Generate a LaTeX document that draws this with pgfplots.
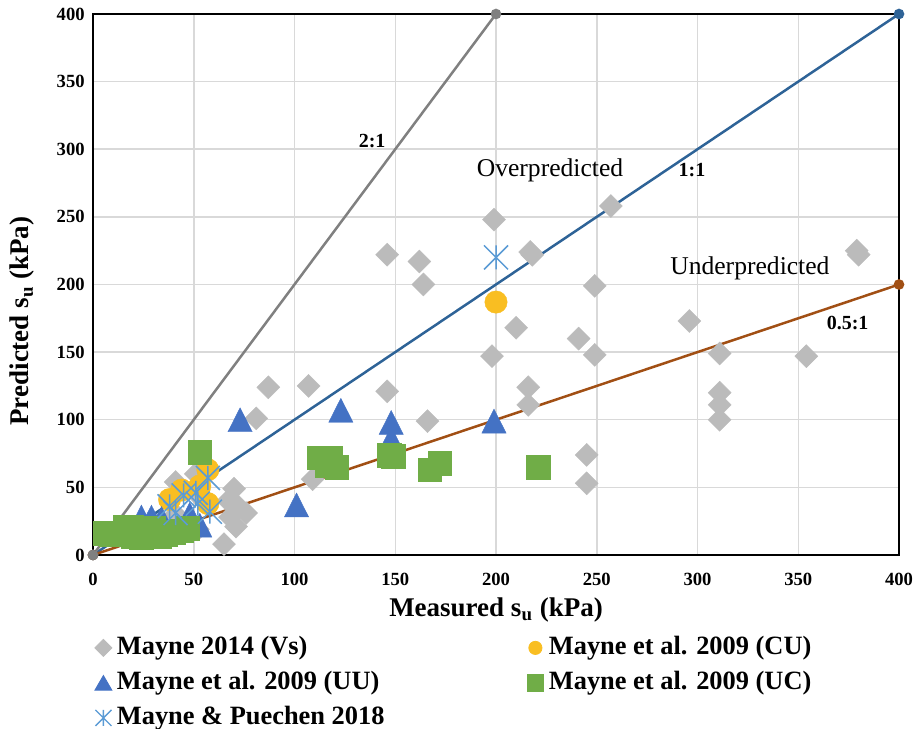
\documentclass[border=0pt]{standalone}
\usepackage{fontspec}
\setmainfont{Liberation Serif}
\usepackage{pgfplots}
\pgfplotsset{compat=1.18}

\definecolor{vsgray}{HTML}{BBBBBB}
\definecolor{cugold}{HTML}{F9BE22}
\definecolor{uublue}{HTML}{4472C4}
\definecolor{ucgreen}{HTML}{70AD47}
\definecolor{mpblue}{HTML}{5B9BD5}
\definecolor{ltwo}{HTML}{808080}
\definecolor{lone}{HTML}{2E6397}
\definecolor{lhalf}{HTML}{A14F14}
\definecolor{gridgray}{HTML}{D9D9D9}

% X with a vertical bar, like the Excel marker
\pgfdeclareplotmark{xast}{%
  \pgfpathmoveto{\pgfqpoint{-\pgfplotmarksize}{-\pgfplotmarksize}}%
  \pgfpathlineto{\pgfqpoint{\pgfplotmarksize}{\pgfplotmarksize}}%
  \pgfpathmoveto{\pgfqpoint{-\pgfplotmarksize}{\pgfplotmarksize}}%
  \pgfpathlineto{\pgfqpoint{\pgfplotmarksize}{-\pgfplotmarksize}}%
  \pgfpathmoveto{\pgfqpoint{0pt}{-\pgfplotmarksize}}%
  \pgfpathlineto{\pgfqpoint{0pt}{\pgfplotmarksize}}%
  \pgfusepathqstroke}

\begin{document}
\begin{tikzpicture}
\begin{axis}[
  scale only axis, width=403pt, height=270.5pt,
  xmin=0, xmax=400, ymin=0, ymax=400,
  xtick={0,50,...,400}, ytick={0,50,...,400},
  grid=major, major grid style={draw=gridgray, line width=0.75pt},
  axis line style={black, line width=1pt},
  major tick length=0pt,
  clip=false,
  tick label style={font=\fontsize{9.3}{11}\selectfont\bfseries},
  /pgf/number format/assume math mode=true,
  xticklabel style={inner sep=0pt, anchor=north, yshift=-9pt},
  yticklabel style={inner sep=0pt, anchor=east, xshift=-4pt},
  label style={font=\fontsize{13.5}{16}\selectfont\bfseries, inner sep=0pt},
  xlabel={Measured s\textsubscript{u} (kPa)},
  ylabel={Predicted s\textsubscript{u} (kPa)},
  xlabel style={at={(0.5,-0.1017)}, anchor=center},
  ylabel style={at={(-0.0880,0.4325)}, anchor=center},
  legend columns=2,
  legend cell align=left,
  legend style={at={(0,0)}, anchor=north west, xshift=0.75pt, yshift=-39.5pt,
    draw=none, fill=none, inner xsep=0pt, inner ysep=0pt,
    font=\fontsize{13.2}{16}\selectfont\bfseries,
    nodes={inner sep=0pt, text height=10pt, text depth=3.5pt},
    row sep=4pt, column sep=0pt},
  legend image code/.code={\path[draw=none, fill=none] (-4.25pt,0pt) -- (4.25pt,0pt);
    \draw[#1] plot coordinates {(0pt,0pt)};},
]

% legend entries (small markers, as in the original)
\addlegendimage{only marks, mark=square*, mark size=3pt, mark options={rotate=45, fill=vsgray, draw=vsgray}}
\addlegendentry{\makebox[207.5pt][l]{\hspace*{2.5pt}Mayne 2014 (Vs)}}
\addlegendimage{only marks, mark=*, mark size=3.3pt, mark options={fill=cugold, draw=cugold}}
\addlegendentry{\hspace*{2.5pt}Mayne et al. 2009 (CU)}
\addlegendimage{only marks, mark=triangle*, mark size=4.9pt, mark options={yshift=-1.2pt, fill=uublue, draw=uublue}}
\addlegendentry{\makebox[207.5pt][l]{\hspace*{2.5pt}Mayne et al. 2009 (UU)}}
\addlegendimage{only marks, mark=square*, mark size=4.1pt, mark options={fill=ucgreen, draw=ucgreen}}
\addlegendentry{\hspace*{2.5pt}Mayne et al. 2009 (UC)}
\addlegendimage{only marks, mark=xast, mark size=4pt, mark options={draw=mpblue, line width=0.7pt}}
\addlegendentry{\makebox[207.5pt][l]{\hspace*{2.5pt}Mayne \& Puechen 2018}}

% reference lines
\addplot[forget plot, lone, line width=1.25pt, mark=*, mark size=2pt] coordinates {(0,0) (400,400)};
\addplot[forget plot, lhalf, line width=1.25pt, mark=*, mark size=2pt] coordinates {(0,0) (400,200)};
\addplot[forget plot, ltwo, line width=1.25pt, mark=*, mark size=2pt] coordinates {(0,0) (200,400)};

% Mayne 2014 (Vs)
\addplot[forget plot, only marks, mark=square*, mark size=4.07pt,
  mark options={rotate=45, fill=vsgray, draw=vsgray, line width=0.2pt}] coordinates {
(199,248) (257,258) (217,224) (218,222) (146,222) (162,217) (164,200) (249,199)
(210,168) (241,160) (249,148) (198,147) (296,173) (311,149) (354,147) (379,225)
(380,222) (311,120) (311,111) (311,100) (216,124) (216,111) (166,99) (146,121)
(107,125) (87,124) (81,101) (245,74) (245,53) (109,56)
(41,54) (51,60) (70,49) (67,40) (76,31) (71,21) (65,8) (52,19) (68,28) (41,30)
(53,43) (72,36)};

% Mayne et al. 2009 (CU)
\addplot[forget plot, only marks, mark=*, mark size=5.6pt,
  mark options={fill=cugold, draw=cugold, line width=0.2pt}] coordinates {
(200,187) (57,63) (44,48) (53,51) (38,41) (57,38)};

% Mayne et al. 2009 (UU)
\addplot[forget plot, only marks, mark=triangle*, mark size=7pt,
  mark options={yshift=-2pt, yscale=1.14, fill=uublue, draw=uublue, line width=0.2pt}] coordinates {
(73,100) (123,107) (148,98) (148,86) (199,99) (101,37)
(24,28) (29,28) (34,27) (48,30) (53,22)};

% Mayne et al. 2009 (UC)
\addplot[forget plot, only marks, mark=square*, mark size=5.9pt,
  mark options={fill=ucgreen, draw=ucgreen, line width=0.2pt}] coordinates {
(53,76) (112,72) (118,72) (121,65) (116,66) (147,74) (149,73) (167,63) (172,68) (221,65)
(6,16) (9,15) (13,16) (16,21) (19,21) (22,20) (25,17) (27,15) (30,20) (33,14)
(36,15) (40,17) (44,18) (47,20) (20,14) (24,13) (29,15)};

% Mayne & Puechen 2018
\addplot[forget plot, only marks, mark=xast, mark size=6pt,
  mark options={draw=mpblue, line width=0.75pt}] coordinates {
(200,220) (57,57) (45,44) (51,46) (38,36) (41,31) (58,32) (52,38)};

\node[font=\fontsize{12.8}{15}\selectfont] at (axis cs:226.8,284.7) {Overpredicted};
\node[font=\fontsize{12.8}{15}\selectfont] at (axis cs:326,212) {Underpredicted};
\node[font=\fontsize{10}{12}\selectfont\bfseries] at (axis cs:138.5,306) {2:1};
\node[font=\fontsize{10}{12}\selectfont\bfseries] at (axis cs:297.3,284.7) {1:1};
\node[font=\fontsize{10}{12}\selectfont\bfseries] at (axis cs:374.5,171.8) {0.5:1};
\end{axis}
\pgfresetboundingbox
\path ([shift={(-46.5pt,-87pt)}]current axis.south west) rectangle ([shift={(10pt,7pt)}]current axis.north east);
\end{tikzpicture}
\end{document}
